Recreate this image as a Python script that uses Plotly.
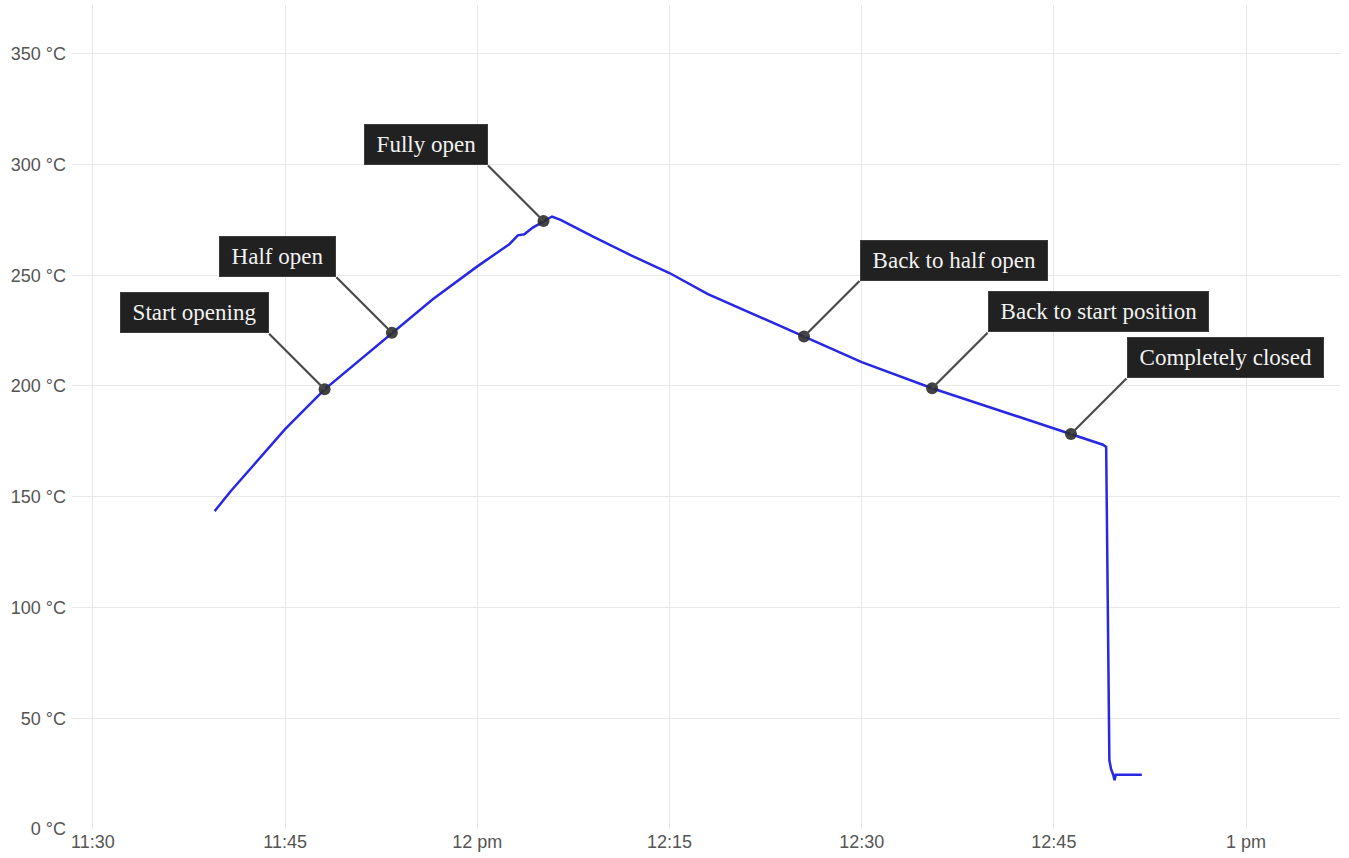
import plotly.graph_objects as go

DAY = "2024-01-01 "

# Temperature trace (time, °C)
times = ["11:39:30", "11:40:45", "11:42:30", "11:45:00", "11:48:05", "11:50:40",
         "11:53:20", "11:56:30", "12:00:00", "12:02:30", "12:03:10", "12:03:40",
         "12:04:20", "12:05:10", "12:05:50", "12:06:30", "12:09:00", "12:12:00",
         "12:15:00", "12:18:00", "12:21:30", "12:25:30", "12:30:00", "12:35:30",
         "12:40:00", "12:46:20", "12:48:50", "12:49:05", "12:49:15", "12:49:20",
         "12:49:28", "12:49:38", "12:49:44", "12:49:50", "12:51:52"]
temps = [143.5, 152.5, 164.0, 180.5, 198.5, 211.0,
         224.0, 239.0, 254.0, 264.0, 268.0, 268.5,
         271.5, 274.5, 276.5, 275.0, 267.5, 259.0,
         251.0, 241.5, 232.5, 222.3, 210.8, 199.0,
         190.5, 178.3, 173.5, 172.5, 60.0, 31.0,
         27.0, 24.5, 22.0, 24.5, 24.5]

# Annotated events
event_labels = ["Start opening", "Half open", "Fully open",
                "Back to half open", "Back to start position", "Completely closed"]
event_times = ["11:48:05", "11:53:20", "12:05:10", "12:25:30", "12:35:30", "12:46:20"]
event_temps = [198.5, 224.0, 274.5, 222.3, 199.0, 178.3]
event_side = [-1, -1, -1, 1, 1, 1]   # -1: label up-left, 1: label up-right

# Axis ticks
x_tickvals = ["11:30:00", "11:45:00", "12:00:00", "12:15:00", "12:30:00", "12:45:00", "13:00:00"]
x_ticktext = ["11:30", "11:45", "12 pm", "12:15", "12:30", "12:45", "1 pm"]
y_tickvals = [0, 50, 100, 150, 200, 250, 300, 350]
y_ticktext = [f"{v} °C" for v in y_tickvals]

fig = go.Figure()
fig.add_trace(go.Scatter(
    x=[DAY + t for t in times], y=temps, mode="lines",
    line=dict(color="#2828e4", width=2.5), hoverinfo="skip", showlegend=False))
fig.add_trace(go.Scatter(
    x=[DAY + t for t in event_times], y=event_temps, mode="markers",
    marker=dict(size=12, color="rgba(45,45,45,0.9)"), hoverinfo="skip", showlegend=False))

d = 57
for lab, t, v, s in zip(event_labels, event_times, event_temps, event_side):
    x = DAY + t
    fig.add_annotation(x=x, y=v, text="", showarrow=True, arrowhead=0,
                       arrowwidth=2.2, arrowcolor="#4a4a4a", ax=s * d, ay=-d,
                       standoff=0)
    fig.add_annotation(x=x, y=v, text="\u2009" + lab + "\u2009", showarrow=False,
                       xanchor="left" if s > 0 else "right", yanchor="bottom",
                       xshift=s * (d - 1), yshift=d - 1,
                       font=dict(family="Liberation Serif, Times New Roman, serif",
                                 size=23, color="#f2f2f2"),
                       bgcolor="#212121", bordercolor="#3c3c3c", borderwidth=1,
                       borderpad=7)

fig.update_layout(
    width=1349, height=858,
    margin=dict(l=72, r=9, t=5, b=29),
    paper_bgcolor="white", plot_bgcolor="white",
    font=dict(family="Liberation Sans, Arial, sans-serif", size=18, color="#555"),
    hovermode=False, showlegend=False,
)
fig.update_xaxes(
    type="date", range=[DAY + "11:28:22", DAY + "13:07:20"],
    tickvals=[DAY + t for t in x_tickvals], ticktext=x_ticktext,
    showgrid=True, gridcolor="#e8e8e8", gridwidth=1,
    zeroline=False, showline=False, ticks="", tickfont=dict(size=18, color="#555"),
)
fig.update_yaxes(
    range=[0, 372], tickvals=y_tickvals, ticktext=y_ticktext,
    showgrid=True, gridcolor="#e8e8e8", gridwidth=1,
    zeroline=False, showline=False, ticks="", ticklabelstandoff=5,
    tickfont=dict(size=18, color="#555"),
)

fig.write_html("out.html", config={"displayModeBar": False},
               post_script="document.body.style.margin='0';")
